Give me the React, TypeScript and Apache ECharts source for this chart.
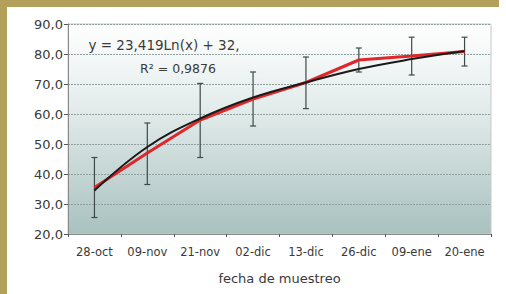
import React, { useEffect, useRef } from "react";
import * as echarts from "echarts";

const categories = ["28-oct", "09-nov", "21-nov", "02-dic", "13-dic", "26-dic", "09-ene", "20-ene"];
const measured = [35.5, 47.0, 58.0, 65.0, 70.5, 78.0, 79.3, 80.8];
const trend = [34.5, 49.0, 58.5, 65.5, 70.5, 75.0, 78.3, 81.0];
const errLow = [25.5, 36.5, 45.5, 56.0, 61.8, 74.0, 73.0, 76.0];
const errHigh = [45.5, 57.0, 70.2, 74.0, 79.0, 82.0, 85.6, 85.6];
const equationText = "y = 23,419Ln(x) + 32,";
const r2Text = "R² = 0,9876";
const xTitle = "fecha de muestreo";

export default function App() {
  const ref = useRef<HTMLDivElement>(null);
  useEffect(() => {
    if (!ref.current) return;
    const chart = echarts.init(ref.current, null, { renderer: "svg" });
    const font = "DejaVu Sans";
    const errData = categories.map((_, i) => [i, errLow[i], errHigh[i]]);
    chart.setOption({
      animation: false,
      backgroundColor: "#ffffff",
      graphic: [
        { type: "rect", shape: { x: 0, y: 0, width: 499, height: 7 }, style: { fill: "#b3a05b" }, z: 100 },
        { type: "rect", shape: { x: 0, y: 0, width: 7, height: 294 }, style: { fill: "#b3a05b" }, z: 100 },
        { type: "text", x: 164, y: 45, style: { text: equationText, font: `13.5px ${font}`, fill: "#3a3a3a", align: "center", verticalAlign: "middle" }, z: 50 },
        { type: "text", x: 178, y: 68, style: { text: r2Text, font: `12.5px ${font}`, fill: "#3a3a3a", align: "center", verticalAlign: "middle" }, z: 50 },
      ],
      grid: {
        left: 68, top: 24, right: 15, bottom: 60,
        show: true,
        borderColor: "#c8c8c8",
        borderWidth: 1,
        backgroundColor: new echarts.graphic.LinearGradient(0, 0, 0, 1, [
          { offset: 0, color: "#ffffff" },
          { offset: 0.4, color: "#e3eceb" },
          { offset: 1, color: "#a8c1bf" },
        ]),
      },
      xAxis: {
        type: "category",
        data: categories,
        boundaryGap: true,
        name: xTitle,
        nameLocation: "middle",
        nameGap: 38,
        nameTextStyle: { fontFamily: font, fontSize: 13, color: "#3a3a3a" },
        axisLine: { lineStyle: { color: "#8a8a8a" } },
        axisTick: { show: true, length: 3, lineStyle: { color: "#555" } },
        axisLabel: { fontFamily: font, fontSize: 11.5, color: "#3a3a3a", margin: 12, interval: 0 },
        splitLine: { show: false },
      },
      yAxis: {
        type: "value",
        min: 20,
        max: 90,
        interval: 10,
        axisLine: { show: true, lineStyle: { color: "#8a8a8a" } },
        axisTick: { show: true, length: 4, lineStyle: { color: "#555" } },
        axisLabel: {
          fontFamily: font, fontSize: 13, color: "#3a3a3a", margin: 5,
          formatter: (v: number) => v.toFixed(1).replace(".", ","),
        },
        splitLine: { show: true, lineStyle: { color: "#8f9f9e", type: [2, 1], width: 1 } },
      },
      series: [
        {
          type: "custom",
          data: errData,
          z: 3,
          renderItem: (params: any, api: any) => {
            const x = api.value(0);
            const lo = api.coord([x, api.value(1)]);
            const hi = api.coord([x, api.value(2)]);
            const cap = 3;
            const style = { stroke: "#3d4a4a", lineWidth: 1.2 };
            return {
              type: "group",
              children: [
                { type: "line", shape: { x1: lo[0], y1: lo[1], x2: hi[0], y2: hi[1] }, style },
                { type: "line", shape: { x1: lo[0] - cap, y1: lo[1], x2: lo[0] + cap, y2: lo[1] }, style },
                { type: "line", shape: { x1: hi[0] - cap, y1: hi[1], x2: hi[0] + cap, y2: hi[1] }, style },
              ],
            };
          },
        },
        {
          type: "line",
          data: measured,
          z: 4,
          symbol: "none",
          lineStyle: { color: "#e0262a", width: 3 },
        },
        {
          type: "line",
          data: trend,
          z: 5,
          smooth: 0.4,
          symbol: "none",
          lineStyle: { color: "#1a1a1a", width: 2 },
        },
      ],
    });
    return () => chart.dispose();
  }, []);
  return (
    <div
      ref={ref}
      style={{ position: "fixed", left: 0, top: 0, width: 506, height: 294 }}
    />
  );
}
